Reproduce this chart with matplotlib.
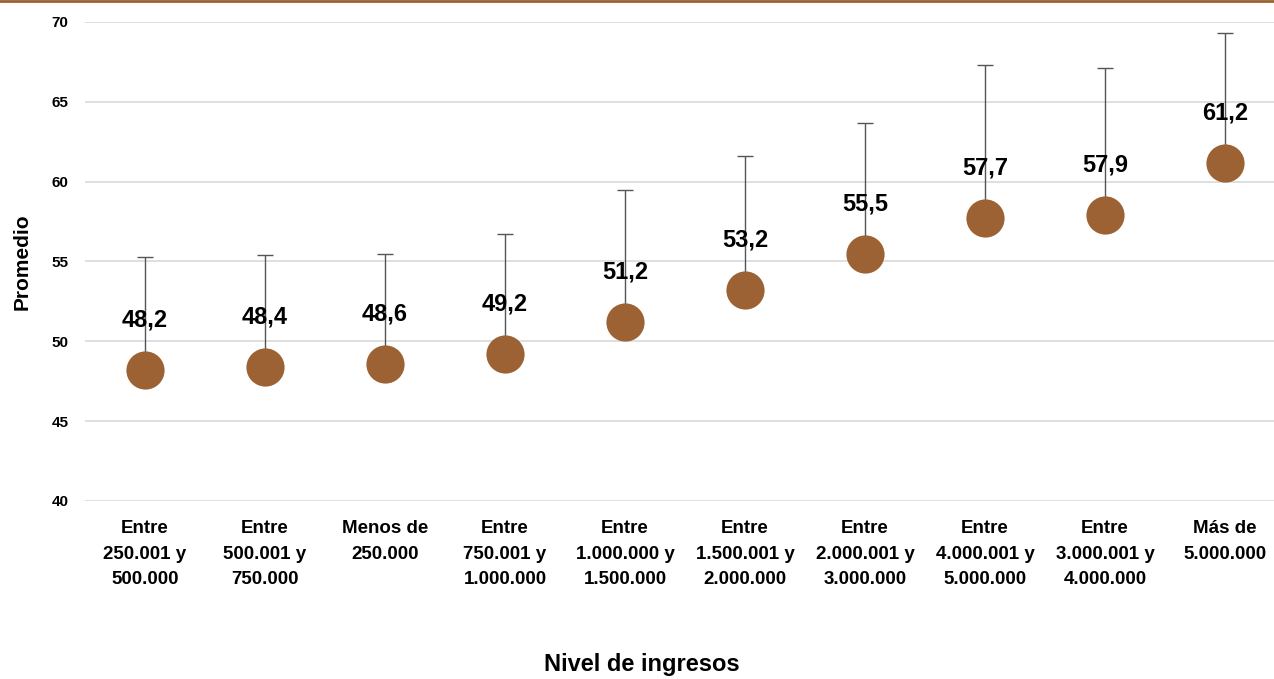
import matplotlib
matplotlib.use("Agg")
import matplotlib.pyplot as plt
from matplotlib.lines import Line2D

categories = [
    "Entre\n250.001 y\n500.000",
    "Entre\n500.001 y\n750.000",
    "Menos de\n250.000",
    "Entre\n750.001 y\n1.000.000",
    "Entre\n1.000.000 y\n1.500.000",
    "Entre\n1.500.001 y\n2.000.000",
    "Entre\n2.000.001 y\n3.000.000",
    "Entre\n4.000.001 y\n5.000.000",
    "Entre\n3.000.001 y\n4.000.000",
    "Más de\n5.000.000",
]
promedio = [48.2, 48.4, 48.6, 49.2, 51.2, 53.2, 55.5, 57.7, 57.9, 61.2]
upper_err = [7.1, 7.0, 6.9, 7.5, 8.3, 8.4, 8.2, 9.6, 9.2, 8.1]
y_ticks = [40, 45, 50, 55, 60, 65, 70]

BROWN = "#9C6233"
FONT = ["Liberation Sans", "DejaVu Sans"]

fig = plt.figure(figsize=(12.74, 6.79), dpi=100)
ax = fig.add_axes([85 / 1274, (679 - 501) / 679, 1200 / 1274, (501 - 22) / 679])

x = list(range(len(categories)))
ax.errorbar(x, promedio, yerr=[[0] * len(x), upper_err], fmt="none",
            ecolor="#555555", elinewidth=1.0, capsize=6, capthick=1.0, zorder=2)
ax.plot(x, promedio, "o", color=BROWN, markersize=27.5, markeredgewidth=0, zorder=3)

for xi, v in zip(x, promedio):
    ax.annotate(f"{v:.1f}".replace(".", ","), (xi, v), xytext=(0, 36),
                textcoords="offset points", ha="center", va="center",
                fontsize=17, fontweight="bold", family=FONT, zorder=4)

ax.set_xlim(-0.5, len(categories) - 0.5)
ax.set_ylim(40, 70)
ax.set_yticks(y_ticks)
ax.set_yticklabels([str(t) for t in y_ticks], fontsize=11, fontweight="bold", family=FONT)
ax.set_xticks(x)
ax.set_xticklabels(categories, fontsize=13.5, fontweight="bold", family=FONT, linespacing=1.62)
ax.tick_params(axis="both", length=0)
ax.tick_params(axis="x", pad=14)
ax.tick_params(axis="y", pad=12)
ax.grid(axis="y", color="#D9D9D9", linewidth=1.2)
ax.set_axisbelow(True)
for s in ax.spines.values():
    s.set_visible(False)

fig.text(22 / 1274, 1 - 262 / 679, "Promedio", rotation=90, ha="center", va="center",
         fontsize=15, fontweight="bold", family=FONT)
fig.text(642 / 1274, 1 - 665 / 679, "Nivel de ingresos", ha="center", va="center",
         fontsize=17, fontweight="bold", family=FONT)

fig.add_artist(Line2D([0, 1], [0.999, 0.999], transform=fig.transFigure,
                      color=BROWN, linewidth=2))

fig.savefig("out.png", dpi=100)
